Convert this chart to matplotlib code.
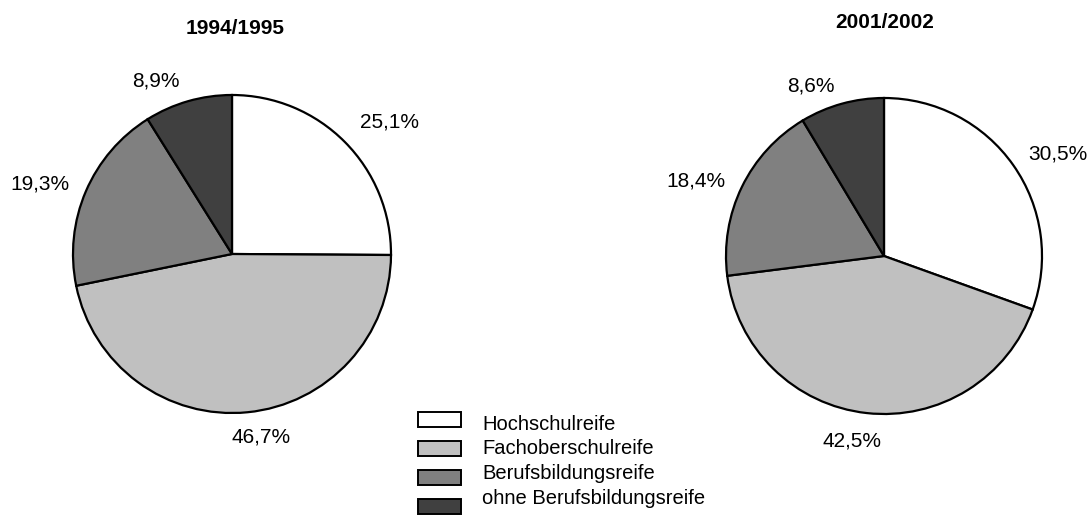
import matplotlib
matplotlib.use('Agg')
import matplotlib.pyplot as plt
from matplotlib.patches import Rectangle

plt.rcParams['font.family'] = ['Liberation Sans', 'DejaVu Sans']

# data
categories = ['Hochschulreife', 'Fachoberschulreife', 'Berufsbildungsreife', 'ohne Berufsbildungsreife']
colors = ['#ffffff', '#c0c0c0', '#808080', '#404040']
years = ['1994/1995', '2001/2002']
shares_1995 = [25.1, 46.7, 19.3, 8.9]
shares_2002 = [30.5, 42.5, 18.4, 8.6]

W, H = 1092, 515
fig = plt.figure(figsize=(W / 100, H / 100), dpi=100)


def pie_axes(cx, cy, r):
    # square axes placed by pixel centre and radius
    return fig.add_axes([(cx - r) / W, (H - cy - r) / H, 2 * r / W, 2 * r / H])


def draw_pie(ax, shares, offsets, title, title_x, title_y):
    wedges, _ = ax.pie(shares, colors=colors, startangle=90, counterclock=False,
                       wedgeprops=dict(edgecolor='black', linewidth=1.6))
    for w in wedges:
        w.set_clip_on(False)
    ax.set_xlim(-1, 1)
    ax.set_ylim(-1, 1)
    for v, (dx, dy) in zip(shares, offsets):
        ax.text(dx, dy, f'{v:.1f}%'.replace('.', ','), ha='center', va='center_baseline',
                fontsize=15, clip_on=False)
    fig.text(title_x / W, 1 - title_y / H, title, ha='center', va='center_baseline',
             fontsize=15, fontweight='bold')


ax1 = pie_axes(232, 254, 159)
draw_pie(ax1, shares_1995, [(0.99, 0.84), (0.18, -1.14), (-1.21, 0.45), (-0.48, 1.10)],
         years[0], 235, 27)

ax2 = pie_axes(884, 256, 158)
draw_pie(ax2, shares_2002, [(1.10, 0.66), (-0.20, -1.16), (-1.19, 0.49), (-0.46, 1.09)],
         years[1], 885, 20)

# legend drawn by hand: boxes and labels on different spacings
for i, (lab, c) in enumerate(zip(categories, colors)):
    by = 412 + i * 29
    fig.patches.append(Rectangle((418 / W, 1 - (by + 15) / H), 43 / W, 15 / H,
                                 transform=fig.transFigure, facecolor=c,
                                 edgecolor='black', linewidth=1.4))
    fig.text(482 / W, 1 - (430 + i * 24.5) / H, lab, ha='left', va='baseline', fontsize=14.5)

fig.savefig('out.png', dpi=100)
